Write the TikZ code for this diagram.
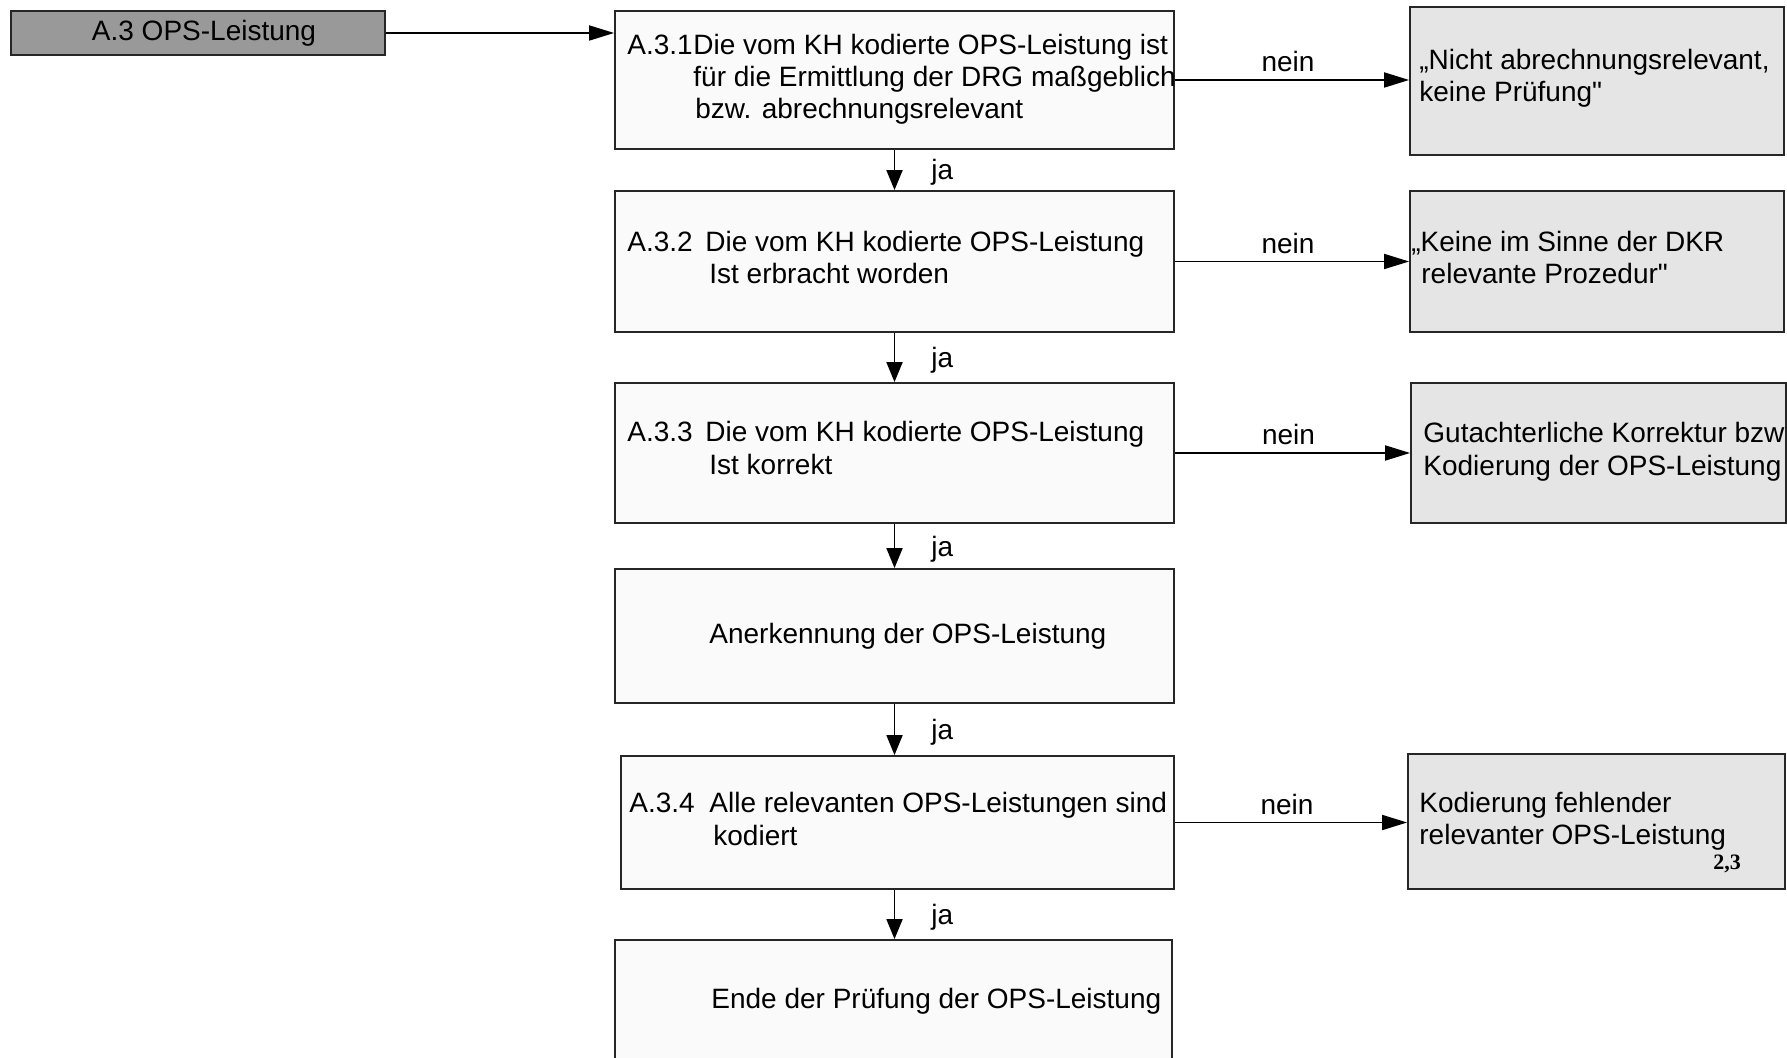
\documentclass[tikz,border=0pt]{standalone}
\usepackage{fontspec}
\setmainfont{Liberation Sans}
\newfontfamily\smallserif{Liberation Serif}
\usetikzlibrary{arrows.meta}
\begin{document}
\begin{tikzpicture}[x=0.5pt,y=-0.5pt,
  every node/.style={font=\fontsize{14pt}{16pt}\selectfont},
  headbox/.style={draw=black!85, line width=0.9pt, fill=black!40, inner sep=0, minimum width=187pt, minimum height=22pt},
  mainbox/.style={draw=black!85, line width=0.9pt, fill=black!2, inner sep=0, minimum width=279.5pt},
  endbox/.style={draw=black!85, line width=0.9pt, fill=black!10, inner sep=0, minimum width=187pt},
  txt/.style={anchor=base west, inner sep=0},
  flow/.style={line width=0.9pt, -{Triangle[length=12.5pt,width=7.5pt]}},
  down/.style={line width=0.9pt, -{Triangle[length=10pt,width=8pt]}},
  ja/.style={midway, anchor=base west, inner sep=0, xshift=18pt, yshift=-5pt},
  nein/.style={midway, anchor=base, inner sep=0, yshift=4pt, xshift=-2pt}]
\clip (0,0) rectangle (1787,1058);
% boxes
\node[headbox] (head) at (198,33) {};
\node[mainbox, minimum height=69pt] (b1) at (894.5,80) {};
\node[mainbox, minimum height=70.5pt] (b2) at (894.5,261.5) {};
\node[mainbox, minimum height=70pt] (b3) at (894.5,453) {};
\node[mainbox, minimum height=67pt] (b4) at (894.5,636) {};
\node[mainbox, minimum width=276.5pt, minimum height=66.5pt] (b5) at (897.5,822.5) {};
\node[mainbox, minimum width=278.5pt, minimum height=80pt] (b6) at (893.5,1020) {};
\node[endbox, minimum height=74pt] (r1) at (1597,81) {};
\node[endbox, minimum height=70.5pt] (r2) at (1597,261.5) {};
\node[endbox, minimum width=187.5pt, minimum height=70pt] (r3) at (1598.5,453) {};
\node[endbox, minimum width=188.5pt, minimum height=67.5pt] (r5) at (1596.5,821.5) {};
% texts
\node[anchor=base, inner sep=0] (th) at (204,41) {A.3 OPS-Leistung};
\node[txt] (t1a) at (627,55) {A.3.1};
\node[txt] (t1b) at (693,55) {Die vom KH kodierte OPS-Leistung ist};
\node[txt] (t1c) at (693,87) {für die Ermittlung der DRG maßgeblich};
\node[txt] (t1d) at (695,119) {bzw. abrechnungsrelevant};
\node[txt] (t2a) at (627,252) {A.3.2};
\node[txt] (t2b) at (705,252) {Die vom KH kodierte OPS-Leistung};
\node[txt] (t2c) at (709,284) {Ist erbracht worden};
\node[txt] (t3a) at (627,442) {A.3.3};
\node[txt] (t3b) at (705,442) {Die vom KH kodierte OPS-Leistung};
\node[txt] (t3c) at (709,475) {Ist korrekt};
\node[txt] (t4) at (709,643) {Anerkennung der OPS-Leistung};
\node[txt] (t5a) at (629,812) {A.3.4};
\node[txt] (t5b) at (709,812) {Alle relevanten OPS-Leistungen sind};
\node[txt] (t5c) at (713,845) {kodiert};
\node[txt] (t6) at (711,1008) {Ende der Prüfung der OPS-Leistung};
\node[txt] (u1a) at (1419,70) {„Nicht abrechnungsrelevant,};
\node[txt] (u1b) at (1419,102) {keine Prüfung\textquotedbl};
\node[txt] (u2a) at (1411,252) {„Keine im Sinne der DKR};
\node[txt] (u2b) at (1421,284) {relevante Prozedur\textquotedbl};
\node[txt] (u3a) at (1423,443) {Gutachterliche Korrektur bzw};
\node[txt] (u3b) at (1423,476) {Kodierung der OPS-Leistung};
\node[txt] (u5a) at (1419,812) {Kodierung fehlender};
\node[txt] (u5b) at (1419,844) {relevanter OPS-Leistung};
\node[txt, font=\smallserif\bfseries\fontsize{11pt}{12pt}\selectfont] (u5c) at (1713,869) {2,3};
% connectors
\draw[flow] (head.east) -- (head.east -| b1.west);
\draw[down] (b1.south) -- (b2.north) node[ja] {ja};
\draw[down] (b2.south) -- (b3.north) node[ja] {ja};
\draw[down] (b3.south) -- (b4.north) node[ja] {ja};
\draw[down] (b4.south) -- (b4.south |- b5.north) node[ja] {ja};
\draw[down] (b5.south -| b4.south) -- (b4.south |- b6.north) node[ja] {ja};
\draw[flow] (b1.east) -- (b1.east -| r1.west) node[nein] {nein};
\draw[flow] (b2.east) -- (b2.east -| r2.west) node[nein] {nein};
\draw[flow] (b3.east) -- (b3.east -| r3.west) node[nein] {nein};
\draw[flow] (b5.east) -- (b5.east -| r5.west) node[nein] {nein};
\end{tikzpicture}
\end{document}
